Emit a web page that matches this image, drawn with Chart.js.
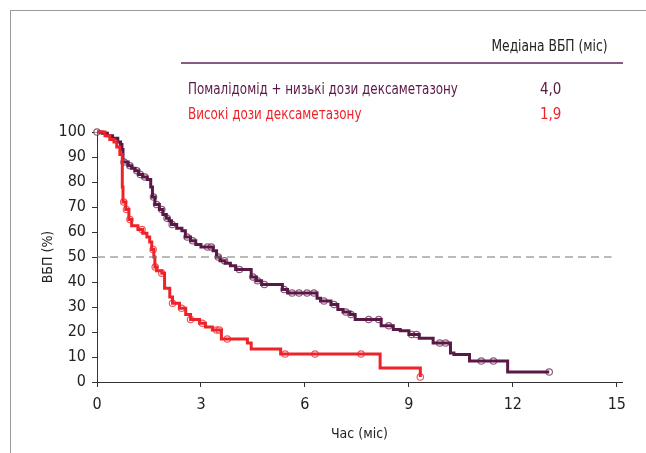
<!DOCTYPE html>
<html>
<head>
<meta charset="utf-8">
<script src="https://cdn.jsdelivr.net/npm/chart.js@4/dist/chart.umd.min.js"></script>
<style>
  body { margin: 0; background: #fff; }
  #wrap { position: relative; width: 646px; height: 453px; overflow: hidden; }
  #km { position: absolute; left: 0; top: 0; }
  .frame-top { position: absolute; left: 10px; top: 10px; width: 636px; height: 1px; background: #9a9a9a; }
  .frame-left { position: absolute; left: 10px; top: 10px; width: 1px; height: 443px; background: #9a9a9a; }
  .lg { position: absolute; font-family: 'Liberation Sans Narrow', 'DejaVu Sans Condensed', sans-serif; white-space: nowrap; }
  .head { right: 38px; top: 38px; font-size: 15px; line-height: 17px; color: #222; transform: scaleX(0.91); transform-origin: right center; }
  .rule { left: 181px; top: 62px; width: 442px; height: 2px; background: #8a5a80; }
  .r1 { top: 80px; font-size: 15px; line-height: 18px; color: #5a1846; }
  .r2 { top: 105px; font-size: 15px; line-height: 18px; color: #ee2229; }
  .name { left: 188px; transform: scaleX(0.885); transform-origin: left center; }
  .val { left: 540px; }
</style>
</head>
<body>
<div id="wrap">
  <canvas id="km" width="646" height="453"></canvas>
  <div class="frame-top"></div>
  <div class="frame-left"></div>
  <div class="lg head">Медіана ВБП (міс)</div>
  <div class="lg rule"></div>
  <div class="lg r1 name">Помалідомід + низькі дози дексаметазону</div>
  <div class="lg r1 val">4,0</div>
  <div class="lg r2 name">Високі дози дексаметазону</div>
  <div class="lg r2 val">1,9</div>
</div>
<script>
// pomalidomide + low-dose dex: step times (months) and survival (%)
var pomT = [0, 0.15, 0.3, 0.45, 0.6, 0.68, 0.72, 0.75, 0.9, 1.0, 1.1, 1.2, 1.32, 1.45, 1.55, 1.6, 1.67, 1.8, 1.9, 2.0, 2.08, 2.15, 2.3, 2.45, 2.55, 2.7, 2.85, 3.0, 3.35, 3.45, 3.55, 3.7, 3.85, 4.0, 4.45, 4.6, 4.75, 5.35, 5.5, 6.35, 6.45, 6.75, 6.95, 7.1, 7.3, 7.45, 8.2, 8.55, 8.75, 9.0, 9.3, 9.7, 10.2, 10.3, 10.75, 11.85, 13.05];
var pomS = [100, 99.5, 98.5, 97.5, 96, 95, 93, 88, 86.5, 85.5, 84.5, 83, 82, 81, 78, 74, 71, 69, 67, 65.5, 64.5, 63, 61.5, 60.5, 58, 56.5, 55, 54, 52.5, 50, 48.5, 47.5, 46.5, 45, 42, 40.5, 39, 37, 35.6, 33.5, 32.4, 31, 29, 28, 27, 25, 22.5, 21, 20.5, 19, 17.5, 15.6, 11.6, 11, 8.4, 4, 4];
var pomCensT = [0, 0.78, 0.95, 1.15, 1.25, 1.38, 1.63, 1.72, 1.87, 2.02, 2.17, 2.6, 2.76, 3.19, 3.3, 3.5, 3.68, 4.11, 4.5, 4.63, 4.83, 5.4, 5.63, 5.83, 6.06, 6.26, 6.55, 6.84, 7.18, 7.33, 7.84, 8.13, 8.42, 9.08, 9.22, 9.89, 10.06, 11.09, 11.44, 13.05];
var pomCensS = [100, 88, 86.5, 84.5, 83, 82, 74, 71, 69, 65.5, 63, 58, 56.5, 54, 54, 50, 48.5, 45, 42, 40.5, 39, 37, 35.6, 35.6, 35.6, 35.6, 32.4, 31, 28, 27, 25, 25, 22.5, 19, 19, 15.6, 15.6, 8.4, 8.4, 4];

// high-dose dex
var dexT = [0, 0.23, 0.37, 0.49, 0.57, 0.66, 0.73, 0.75, 0.83, 0.92, 1.0, 1.18, 1.32, 1.44, 1.52, 1.58, 1.64, 1.67, 1.72, 1.87, 1.95, 2.1, 2.18, 2.38, 2.56, 2.7, 2.96, 3.13, 3.33, 3.59, 4.34, 4.45, 5.3, 8.17, 9.33];
var dexS = [100, 98.5, 97, 96, 94, 91, 78, 72, 69, 65, 62.5, 61, 59.5, 58, 56, 53, 50, 46, 44.5, 43.5, 37.5, 34, 31.5, 29.5, 27, 25, 23.5, 22, 20.8, 17.2, 15.6, 13.2, 11.2, 5.6, 2];
var dexCensT = [0.77, 0.85, 0.95, 1.3, 1.62, 1.68, 1.87, 2.18, 2.44, 2.7, 3.04, 3.45, 3.53, 3.76, 5.43, 6.29, 7.62, 9.33];
var dexCensS = [72, 69, 65, 61, 53, 46, 43.5, 31.5, 29.5, 25, 23.5, 20.8, 20.8, 17.2, 11.2, 11.2, 11.2, 2];

var xTicks = [0, 3, 6, 9, 12, 15];
var yTicks = [0, 10, 20, 30, 40, 50, 60, 70, 80, 90, 100];
var medianLine = [50, 50];
var medianLineT = [0, 14.85];

var purple = '#5a1846';
var red = '#ee2229';
var fontFam = "'Liberation Sans Narrow', 'DejaVu Sans Condensed', sans-serif";

function pts(xs, ys) {
  return xs.map(function(x, i) { return { x: x, y: ys[i] }; });
}

var ctx = document.getElementById('km').getContext('2d');
new Chart(ctx, {
  type: 'line',
  data: {
    datasets: [
      {
        data: pts(medianLineT, medianLine),
        borderColor: '#777',
        borderWidth: 1.2,
        borderDash: [8, 5],
        pointRadius: 0
      },
      {
        data: pts(dexT, dexS),
        stepped: 'before',
        borderColor: red,
        borderWidth: 3,
        pointRadius: 0,
        clip: false
      },
      {
        data: pts(pomT, pomS),
        stepped: 'before',
        borderColor: purple,
        borderWidth: 3,
        pointRadius: 0,
        clip: false
      },
      {
        data: pts(dexCensT, dexCensS),
        showLine: false,
        pointRadius: 3.2,
        pointBorderWidth: 1.2,
        pointBorderColor: 'rgba(238,34,41,0.75)',
        pointBackgroundColor: 'rgba(255,255,255,0.5)',
        clip: false
      },
      {
        data: pts(pomCensT, pomCensS),
        showLine: false,
        pointRadius: 3.2,
        pointBorderWidth: 1.2,
        pointBorderColor: 'rgba(90,24,70,0.7)',
        pointBackgroundColor: 'rgba(255,255,255,0.5)',
        clip: false
      }
    ]
  },
  options: {
    responsive: false,
    animation: false,
    devicePixelRatio: 1,
    layout: { padding: { left: 0, right: 24, top: 132, bottom: 0 } },
    plugins: { legend: { display: false }, tooltip: { enabled: false } },
    scales: {
      x: {
        type: 'linear',
        min: 0,
        max: 15.15,
        afterFit: function(s) { s.height = 71; },
        afterBuildTicks: function(s) { s.ticks = xTicks.map(function(v) { return { value: v }; }); },
        grid: { drawOnChartArea: false, drawTicks: true, tickLength: 5, color: '#333' },
        border: { display: true, color: '#333', width: 1 },
        ticks: { color: '#222', padding: 8, maxRotation: 0, font: { family: fontFam, size: 16 } },
        title: { display: true, text: 'Час (міс)', color: '#222', padding: { top: 0, bottom: 10 }, font: { family: fontFam, size: 14 } }
      },
      y: {
        min: 0,
        max: 100,
        afterFit: function(s) { s.width = 97; },
        afterBuildTicks: function(s) { s.ticks = yTicks.map(function(v) { return { value: v }; }); },
        grid: { drawOnChartArea: false, drawTicks: true, tickLength: 5, color: '#333' },
        border: { display: true, color: '#333', width: 1 },
        ticks: { color: '#222', padding: 6, font: { family: fontFam, size: 16 } },
        title: { display: true, text: 'ВБП (%)', color: '#222', padding: { top: 40, bottom: 0 }, font: { family: fontFam, size: 14 } }
      }
    }
  }
});
</script>
</body>
</html>
